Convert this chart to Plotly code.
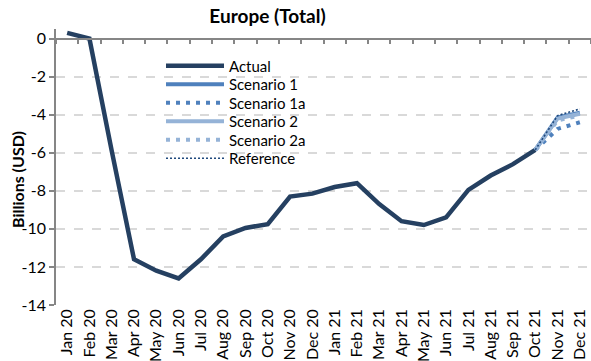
import plotly.graph_objects as go

# Monthly categories
months = ["Jan 20", "Feb 20", "Mar 20", "Apr 20", "May 20", "Jun 20",
          "Jul 20", "Aug 20", "Sep 20", "Oct 20", "Nov 20", "Dec 20",
          "Jan 21", "Feb 21", "Mar 21", "Apr 21", "May 21", "Jun 21",
          "Jul 21", "Aug 21", "Sep 21", "Oct 21", "Nov 21", "Dec 21"]

# Billions of USD
actual = [0.3, 0.0, -5.9, -11.6, -12.2, -12.6, -11.6, -10.4, -9.95, -9.75,
          -8.3, -8.15, -7.8, -7.6, -8.7, -9.6, -9.8, -9.4, -7.95, -7.2,
          -6.6, -5.85, None, None]

# Projection months and series
proj_months = ["Oct 21", "Nov 21", "Dec 21"]
scenario_1 = [-5.85, -4.15, -3.9]
scenario_1a = [-5.85, -4.75, -4.4]
scenario_2 = [-5.85, -4.2, -3.95]
scenario_2a = [-5.85, -4.3, -4.05]
reference = [-5.85, -4.05, -3.7]

y_ticks = [0, -2, -4, -6, -8, -10, -12, -14]
y_min, y_max = -14, 0.5

FONT = "Lato"
AXIS_GREY = "#868686"
GRID_GREY = "#D9D9D9"

W, H = 591, 361
M_L, M_R, M_T, M_B = 56, 0, 29, 56
PLOT_H = H - M_T - M_B
PLOT_W = W - M_L - M_R

series = [
    ("Actual", months, actual, dict(color="#254061", width=4.5)),
    ("Scenario 1", proj_months, scenario_1, dict(color="#4F81BD", width=4)),
    ("Scenario 1a", proj_months, scenario_1a, dict(color="#4F81BD", width=4, dash="4px,6px")),
    ("Scenario 2", proj_months, scenario_2, dict(color="#95B3D7", width=4)),
    ("Scenario 2a", proj_months, scenario_2a, dict(color="#95B3D7", width=4, dash="4px,6px")),
    ("Reference", proj_months, reference, dict(color="#1F497D", width=1.6, dash="2px,2px")),
]

# vertical pixel centre of each legend row, top to bottom
legend_rows_px = [66, 84.5, 103, 121.5, 140, 158.5]
legend_left_px = 161

fig = go.Figure()
legend_layouts = {}
for i, (name, xs, ys, line) in enumerate(series):
    key = "legend" if i == 0 else f"legend{i + 1}"
    fig.add_trace(go.Scatter(x=xs, y=ys, name=name, mode="lines", line=line,
                             legend=key))
    legend_layouts[key] = dict(
        x=(legend_left_px - M_L) / PLOT_W,
        y=(H - M_B - legend_rows_px[i]) / PLOT_H,
        xanchor="left", yanchor="middle", bgcolor="rgba(0,0,0,0)",
        font=dict(family=FONT, size=15, color="#000000"), itemwidth=58,
    )

# invisible carrier for the category axis drawn at y = 0
fig.add_trace(go.Scatter(x=months, y=[0] * len(months), xaxis="x2", mode="lines",
                         line=dict(width=0), hoverinfo="skip", showlegend=False))

zero_pos = (0 - y_min) / (y_max - y_min)

fig.update_layout(
    width=W, height=H,
    margin=dict(l=M_L, r=M_R, t=M_T, b=M_B),
    paper_bgcolor="white", plot_bgcolor="white",
    font=dict(family=FONT, color="#000000", size=16),
    title=dict(text="<b>Europe (Total)</b>", x=(267.5 / W), xanchor="center",
               y=1 - 16 / H, yanchor="middle",
               font=dict(family=FONT, size=19, color="#000000")),
    showlegend=True,
    xaxis=dict(type="category", categoryorder="array", categoryarray=months,
               range=[-0.5, len(months) - 0.5], showline=False, showgrid=False,
               zeroline=False, ticks="", tickangle=-90,
               tickfont=dict(family=FONT, size=16)),
    xaxis2=dict(type="category", categoryorder="array", categoryarray=months,
                range=[-0.5, len(months) - 0.5], overlaying="x", anchor="free",
                position=zero_pos, side="bottom", showline=True,
                linecolor=AXIS_GREY, linewidth=1.5, ticks="outside",
                tickson="boundaries", ticklen=5, tickcolor=AXIS_GREY,
                tickwidth=1.5, showticklabels=False, showgrid=False, zeroline=False),
    yaxis=dict(range=[y_min, y_max], tickvals=y_ticks,
               ticktext=[str(v) for v in y_ticks],
               showline=True, linecolor=AXIS_GREY, linewidth=1.5,
               ticks="outside", ticklen=5, tickcolor=AXIS_GREY, tickwidth=1.5,
               showgrid=True, gridcolor=GRID_GREY, gridwidth=1.5, griddash="dash",
               zeroline=False, tickfont=dict(family=FONT, size=16)),
    annotations=[dict(text="<b>Billions (USD)</b>", textangle=-90,
                      xref="paper", yref="paper",
                      x=(17 - M_L) / PLOT_W, y=(H - M_B - 180) / PLOT_H,
                      xanchor="center", yanchor="middle", showarrow=False,
                      font=dict(family=FONT, size=16, color="#000000"))],
    **legend_layouts,
)

fig.write_html("out.html")
